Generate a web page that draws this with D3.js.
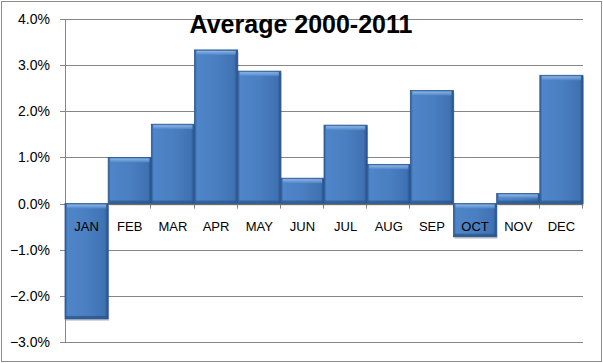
<!DOCTYPE html>
<html>
<head>
<meta charset="utf-8">
<script src="https://cdn.jsdelivr.net/npm/d3@7"></script>
<style>
  body { margin: 0; background: #fff; }
  svg { display: block; font-family: "Liberation Sans", Arial, sans-serif; }
</style>
</head>
<body>
<svg id="chart" width="603" height="363"></svg>
<script>
// data
const months = ["JAN","FEB","MAR","APR","MAY","JUN","JUL","AUG","SEP","OCT","NOV","DEC"];
const avgReturn = [-2.5, 1.0, 1.72, 3.33, 2.87, 0.55, 1.7, 0.85, 2.45, -0.72, 0.22, 2.78];
const yTicks = [-3, -2, -1, 0, 1, 2, 3, 4];
const title = "Average 2000-2011";

const margin = { top: 19, right: 20, bottom: 21, left: 65 };
const W = 603, H = 363;

const svg = d3.select("#chart");

// outer border
svg.append("rect")
  .attr("x", 1.5).attr("y", 1.5)
  .attr("width", 600).attr("height", 360)
  .attr("fill", "#fff")
  .attr("stroke", "#8c8c8c");

const x = d3.scaleBand()
  .domain(months)
  .range([margin.left, W - margin.right])
  .padding(0);

const y = d3.scaleLinear()
  .domain([-3, 4])
  .range([H - margin.bottom, margin.top]);

// gradients for the bevelled bars
const defs = svg.append("defs");
const g1 = defs.append("linearGradient").attr("id", "barFill")
  .attr("x1", 0).attr("x2", 1).attr("y1", 0).attr("y2", 0);
g1.append("stop").attr("offset", "0%").attr("stop-color", "#2f5d98");
g1.append("stop").attr("offset", "6%").attr("stop-color", "#4f86c9");
g1.append("stop").attr("offset", "50%").attr("stop-color", "#4a7fc1");
g1.append("stop").attr("offset", "92%").attr("stop-color", "#3f72b3");
g1.append("stop").attr("offset", "100%").attr("stop-color", "#274f85");

const g2 = defs.append("linearGradient").attr("id", "topFill")
  .attr("x1", 0).attr("x2", 0).attr("y1", 0).attr("y2", 1);
g2.append("stop").attr("offset", "0%").attr("stop-color", "#9cc3ee");
g2.append("stop").attr("offset", "100%").attr("stop-color", "#4f86c9");

// gridlines
svg.append("g")
  .selectAll("line")
  .data(yTicks)
  .join("line")
  .attr("x1", margin.left - 5)
  .attr("x2", W - margin.right)
  .attr("y1", d => Math.round(y(d)) + 0.5)
  .attr("y2", d => Math.round(y(d)) + 0.5)
  .attr("stroke", "#868686");

// y axis line
svg.append("line")
  .attr("x1", margin.left + 0.5).attr("x2", margin.left + 0.5)
  .attr("y1", y(4)).attr("y2", y(-3))
  .attr("stroke", "#868686");

// y labels
svg.append("g")
  .selectAll("text")
  .data(yTicks)
  .join("text")
  .attr("x", 50)
  .attr("y", d => y(d) + 5)
  .attr("text-anchor", "end")
  .attr("font-size", 14)
  .attr("fill", "#000")
  .text(d => d3.format(".1f")(d) + "%");

// category ticks on zero line
const bounds = months.map(m => x(m)).concat([x.range()[1]]);
svg.append("g")
  .selectAll("line")
  .data(bounds.slice(1))
  .join("line")
  .attr("x1", d => Math.round(d) - 0.5)
  .attr("x2", d => Math.round(d) - 0.5)
  .attr("y1", y(0)).attr("y2", y(0) + 5)
  .attr("stroke", "#868686");

// title (drawn over the top gridline)
svg.append("text")
  .attr("x", 301)
  .attr("y", 33)
  .attr("text-anchor", "middle")
  .attr("font-size", 25)
  .attr("font-weight", "bold")
  .attr("fill", "#000")
  .text(title);

// bars
const bars = svg.append("g")
  .selectAll("g")
  .data(months.map((m, i) => ({ m: m, v: avgReturn[i] })))
  .join("g");

bars.append("rect")
  .attr("x", d => x(d.m) + 1)
  .attr("y", d => Math.min(y(d.v), y(0)) + 2)
  .attr("width", x.bandwidth())
  .attr("height", d => Math.abs(y(d.v) - y(0)))
  .attr("fill", "#000")
  .attr("opacity", 0.18);

bars.append("rect")
  .attr("x", d => x(d.m))
  .attr("y", d => Math.min(y(d.v), y(0)))
  .attr("width", x.bandwidth())
  .attr("height", d => Math.abs(y(d.v) - y(0)))
  .attr("fill", "url(#barFill)")
  .attr("stroke", "#2c568f")
  .attr("stroke-width", 0.8);

// bevel highlight on the outer end of each bar
bars.append("rect")
  .attr("x", d => x(d.m) + 2)
  .attr("y", d => d.v >= 0 ? y(d.v) + 1 : y(0) + 1)
  .attr("width", x.bandwidth() - 4)
  .attr("height", 4)
  .attr("fill", "url(#topFill)")
  .attr("opacity", 0.8);

bars.append("rect")
  .attr("x", d => x(d.m) + 1)
  .attr("y", d => d.v >= 0 ? y(0) - 3 : y(d.v) - 3)
  .attr("width", x.bandwidth() - 2)
  .attr("height", 3)
  .attr("fill", "#2a5288")
  .attr("opacity", 0.7);

// category labels
svg.append("g")
  .selectAll("text")
  .data(months)
  .join("text")
  .attr("x", d => x(d) + x.bandwidth() / 2)
  .attr("y", y(0) + 27)
  .attr("text-anchor", "middle")
  .attr("font-size", 13)
  .attr("fill", "#000")
  .text(d => d);
</script>
</body>
</html>
